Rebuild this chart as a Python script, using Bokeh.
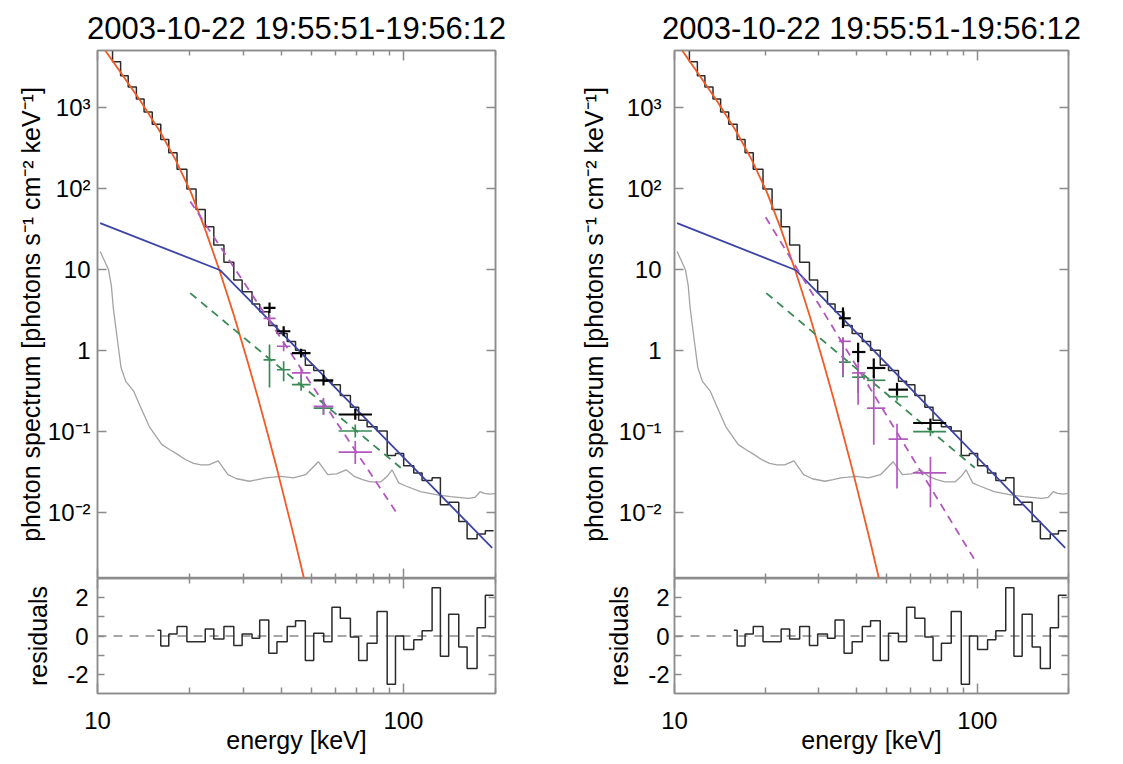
from bokeh.plotting import figure
from bokeh.layouts import row, column
from bokeh.models import FixedTicker, LogAxis, LinearAxis, Range1d, CustomJSTickFormatter
from bokeh.embed import file_html
from bokeh.resources import INLINE

TITLE = "2003-10-22 19:55:51-19:56:12"
Y_LABEL = "photon spectrum [photons s\u207b\u00b9 cm\u207b\u00b2 keV\u207b\u00b9]"
X_LABEL = "energy [keV]"
R_LABEL = "residuals"

# ---- ticks ----
x_major = [10, 100]
x_minor = [20, 30, 40, 50, 60, 70, 80, 90, 200]
y_major = [0.01, 0.1, 1, 10, 100, 1000]
r_major = [-2, 0, 2]
r_minor = [-1, 1]

# ---- observed count spectrum (histogram) ----
hist_edges = [10.5, 11.2, 11.9, 12.6, 13.4, 14.2, 15.1, 16.1, 17.1, 18.2, 19.6, 21.0, 22.5,
              24.0, 25.9, 27.9, 29.7, 32.0, 33.9, 36.3, 38.6, 41.7, 44.4, 47.8, 50.9, 54.9,
              58.4, 62.2, 67.1, 71.4, 76.1, 82.0, 88.5, 94.2, 100.2, 108.1, 115.1, 124.1,
              132.1, 140.6, 151.7, 161.5, 174.1, 185.3, 197.2]
hist_vals = [5250, 3630, 2450, 1780, 1260, 870, 615, 400, 275, 172, 98, 55, 33.5,
             20, 12.3, 7.4, 5.3, 3.76, 3.0, 2.04, 1.62, 1.29, 1.01, 0.66, 0.57,
             0.42, 0.38, 0.279, 0.20, 0.138, 0.115, 0.102, 0.051, 0.054, 0.038, 0.031,
             0.025, 0.027, 0.0126, 0.0135, 0.0078, 0.0048, 0.0055, 0.0060]

# ---- residuals ----
res_edges = [15.7, 16.1, 17.1, 18.2, 19.6, 21.0, 22.5, 24.0, 25.9, 27.9, 29.7, 32.0, 33.9,
             36.3, 38.6, 41.7, 44.4, 47.8, 50.9, 54.9, 58.4, 62.2, 67.1, 71.4, 76.1, 82.0,
             88.5, 94.2, 100.2, 108.1, 115.1, 124.1, 132.1, 140.6, 151.7, 161.5, 174.1,
             185.3, 197.2]
res_vals = [0.3, -0.52, 0.1, 0.5, -0.3, -0.3, 0.37, -0.16, 0.5, -0.5, 0.1, -0.12, 0.83,
            -0.9, -0.3, 0.5, 0.8, -1.28, 0.14, -0.3, 1.5, 0.92, -0.05, -1.28, -0.38, 1.28,
            -2.52, 0.0, -0.7, -0.2, 0.27, 2.52, -1.05, 1.13, -0.58, -1.7, 0.43, 2.12]

# ---- background (grey) ----
bg_E = [10.2, 10.5, 10.86, 11.1, 11.26, 11.6, 11.94, 12.37, 13.13, 13.77, 14.78, 15.5, 16.24,
        17.2, 18.27, 19.3, 20.6, 21.8, 23.1, 24.8, 26.7, 28.5, 31.4, 33.4, 35.4, 37.5, 39.8,
        43.7, 47.9, 52.7, 56.6, 60.5, 65.0, 69.0, 73.5, 78.0, 84.3, 88.5, 91.8, 96.5, 101.8,
        113.7, 129.0, 142.6, 163.0, 171.5, 178.0, 184.0, 192.0, 200.0]
bg_F = [16.6, 13.2, 10.0, 6.3, 3.39, 1.41, 0.617, 0.417, 0.316, 0.209, 0.115, 0.0891, 0.0692,
        0.0603, 0.0525, 0.0457, 0.0407, 0.0389, 0.0389, 0.0437, 0.0295, 0.0263, 0.0245, 0.0257,
        0.0269, 0.0275, 0.0282, 0.0269, 0.0295, 0.0427, 0.0295, 0.0302, 0.0339, 0.0282, 0.0257,
        0.0240, 0.0240, 0.0282, 0.0339, 0.0234, 0.0214, 0.0182, 0.0166, 0.0158, 0.0151, 0.0155,
        0.0182, 0.0174, 0.0170, 0.0174]

# ---- thermal (orange) ----
th_E = [10.4, 10.6, 12.0, 13.8, 16.0, 18.0, 20.2, 22.5, 25.1, 28.0, 31.0, 33.5, 35.8, 38.5,
        42.1, 44.5, 47.2, 49.0]
th_F = [6300, 5010, 2570, 1200, 501, 224, 89, 31, 9.5, 2.63, 0.72, 0.257, 0.102, 0.0363,
        0.0095, 0.0041, 0.00162, 0.00089]

# ---- non-thermal broken power law (blue) ----
nt_E = [10.2, 25.2, 195.0]
nt_F = [37.3, 9.77, 0.0037]

# ---- green dashed ----
gr_E = [20.1, 98.0]
gr_F = [5.1, 0.036]

# ---- purple dashed (left / right) ----
pu_left_E = [20.1, 95.3]
pu_left_F = [69.0, 0.0098]
pu_right_E = [20.0, 97.6]
pu_right_F = [44.0, 0.0027]

# ---- imaging crosses ----
cross_lo = [34.9, 38.6, 43.2, 50.9, 61.4]
cross_hi = [38.2, 42.7, 49.7, 59.0, 78.9]

L_black_E = [36.5, 40.6, 46.3, 54.8, 69.6]
L_black_v = [3.36, 1.73, 0.93, 0.43, 0.163]
L_black_lo = [2.9, 1.5, 0.82, 0.37, 0.14]
L_black_hi = [3.9, 2.0, 1.05, 0.50, 0.19]
L_green_v = [0.77, 0.58, 0.38, 0.195, 0.102]
L_green_lo = [0.35, 0.42, 0.32, 0.163, 0.085]
L_green_hi = [1.19, 0.74, 0.50, 0.236, 0.123]
L_purple_v = [2.5, 1.13, 0.53, 0.205, 0.056]
L_purple_lo = [2.2, 0.98, 0.45, 0.162, 0.040]
L_purple_hi = [2.8, 1.3, 0.62, 0.26, 0.077]

R_black_E = [36.0, 40.4, 45.5, 54.3, 70.0]
R_black_v = [2.5, 0.96, 0.61, 0.33, 0.128]
R_black_lo = [1.9, 0.72, 0.46, 0.28, 0.105]
R_black_hi = [3.4, 1.25, 0.80, 0.40, 0.145]
R_green_v = [0.72, 0.47, 0.43, 0.27, 0.10]
R_green_lo = [0.47, 0.30, 0.36, 0.24, 0.088]
R_green_hi = [1.45, 0.62, 0.50, 0.31, 0.115]
R_purple_v = [1.3, 0.53, 0.195, 0.081, 0.031]
R_purple_lo = [0.50, 0.215, 0.069, 0.020, 0.0117]
R_purple_hi = [1.45, 1.12, 0.47, 0.125, 0.049]

FONT = "Liberation Sans"
FRAME = "#8c8c8c"
C_HIST = "#2b2b2b"
C_BG = "#a3a3a3"
C_TH = "#f45a22"
C_NT = "#3c44a6"
C_GR = "#3a8a56"
C_PU = "#b257be"
TICK_FS = "24px"
LABEL_FS = "25px"


def steps(edges, vals):
    xs, ys = [], []
    for i, v in enumerate(vals):
        xs += [edges[i], edges[i + 1]]
        ys += [v, v]
    return xs, ys


BLANK = CustomJSTickFormatter(code="return '';")
XFMT = CustomJSTickFormatter(code="return String(Math.round(tick));")
RFMT = CustomJSTickFormatter(code="return String(Math.round(tick));")
YFMT = CustomJSTickFormatter(code="""
const m = {"-2":"10\u207b\u00b2","-1":"10\u207b\u00b9","0":"1","1":"10","2":"10\u00b2","3":"10\u00b3"};
return m[String(Math.round(Math.log10(tick)))] || '';
""")


def style_axis(ax, ticker, major_len, minor_len, labels, standoff=0, formatter=None):
    ax.ticker = ticker
    ax.axis_line_color = FRAME
    ax.axis_line_width = 1.5
    ax.major_tick_line_color = FRAME
    ax.minor_tick_line_color = FRAME
    ax.major_tick_line_width = 1.5
    ax.minor_tick_line_width = 1.5
    ax.major_tick_in = major_len
    ax.major_tick_out = 0
    ax.minor_tick_in = minor_len
    ax.minor_tick_out = 0
    ax.axis_label_text_font = FONT
    ax.axis_label_text_font_size = LABEL_FS
    ax.axis_label_text_font_style = "normal"
    ax.axis_label_text_color = "black"
    ax.major_label_text_font = FONT
    ax.major_label_text_color = "black"
    if labels:
        ax.major_label_text_font_size = TICK_FS
        ax.major_label_standoff = standoff
        if formatter is not None:
            ax.formatter = formatter
    else:
        ax.major_label_text_font_size = "0px"
        ax.major_label_standoff = 0
        ax.formatter = BLANK


def xticker():
    return FixedTicker(ticks=x_major, minor_ticks=x_minor)


def make_column(width, bl, br, ytick_standoff, ylab_standoff, rtick_standoff, rlab_standoff,
                black_E, black_v, black_lo, black_hi, green_v, green_lo, green_hi,
                purple_v, purple_lo, purple_hi, pu_E, pu_F):
    p = figure(width=width, height=578, x_axis_type="log", y_axis_type="log",
               x_range=Range1d(10, 200), y_range=Range1d(0.00155, 5000),
               output_backend="svg", toolbar_location=None,
               min_border_left=bl, min_border_right=br, min_border_top=50, min_border_bottom=0)
    p.title.text = TITLE
    p.title.align = "center"
    p.title.text_font = FONT
    p.title.text_font_size = "31px"
    p.title.text_font_style = "normal"
    p.title.text_color = "black"
    p.title.standoff = 10
    p.grid.visible = False
    p.outline_line_color = FRAME
    p.outline_line_width = 1.5
    p.background_fill_color = "white"
    p.border_fill_color = "white"

    style_axis(p.xaxis[0], xticker(), 10, 5, False)
    style_axis(p.yaxis[0], FixedTicker(ticks=y_major, minor_ticks=[]), 9, 0, True,
               ytick_standoff, YFMT)
    p.yaxis[0].axis_label = Y_LABEL
    p.yaxis[0].axis_label_standoff = ylab_standoff
    top = LogAxis()
    style_axis(top, xticker(), 10, 5, False)
    p.add_layout(top, "above")
    right = LogAxis()
    style_axis(right, FixedTicker(ticks=y_major, minor_ticks=[]), 9, 0, False)
    p.add_layout(right, "right")

    p.line(bg_E, bg_F, color=C_BG, line_width=1.3)
    hx, hy = steps(hist_edges, hist_vals)
    p.line(hx, hy, color=C_HIST, line_width=1.5)
    p.line(th_E, th_F, color=C_TH, line_width=1.8)
    p.line(nt_E, nt_F, color=C_NT, line_width=1.8)
    p.line(gr_E, gr_F, color=C_GR, line_width=1.8, line_dash="8 6")
    p.line(pu_E, pu_F, color=C_PU, line_width=1.8, line_dash="8 6")

    for col, v, lo, hi, w in [(C_GR, green_v, green_lo, green_hi, 1.7),
                              (C_PU, purple_v, purple_lo, purple_hi, 1.7),
                              ("black", black_v, black_lo, black_hi, 2.2)]:
        p.segment(x0=cross_lo, y0=v, x1=cross_hi, y1=v, color=col, line_width=w)
        p.segment(x0=black_E, y0=lo, x1=black_E, y1=hi, color=col, line_width=w)

    r = figure(width=width, height=186, x_axis_type="log",
               x_range=Range1d(10, 200), y_range=Range1d(-3, 3),
               output_backend="svg", toolbar_location=None,
               min_border_left=bl, min_border_right=br, min_border_top=0, min_border_bottom=71)
    r.grid.visible = False
    r.outline_line_color = FRAME
    r.outline_line_width = 1.5
    r.background_fill_color = "white"
    r.border_fill_color = "white"
    style_axis(r.xaxis[0], xticker(), 10, 6, True, 18, XFMT)
    r.xaxis[0].axis_label = X_LABEL
    r.xaxis[0].axis_label_standoff = -6
    style_axis(r.yaxis[0], FixedTicker(ticks=r_major, minor_ticks=r_minor), 7, 7, True,
               rtick_standoff, RFMT)
    r.yaxis[0].axis_label = R_LABEL
    r.yaxis[0].axis_label_standoff = rlab_standoff
    rtop = LogAxis()
    style_axis(rtop, xticker(), 10, 5, False)
    r.add_layout(rtop, "above")
    rright = LinearAxis()
    style_axis(rright, FixedTicker(ticks=r_major, minor_ticks=r_minor), 7, 7, False)
    r.add_layout(rright, "right")

    r.line([10, 200], [0, 0], color="#8a8a8a", line_width=1.5, line_dash="9 7")
    rx, ry = steps(res_edges, res_vals)
    r.line(rx, ry, color=C_HIST, line_width=1.5)

    return column(p, r, spacing=0)


left = make_column(560, 97, 65, 7, 0, 9, 12,
                   L_black_E, L_black_v, L_black_lo, L_black_hi,
                   L_green_v, L_green_lo, L_green_hi,
                   L_purple_v, L_purple_lo, L_purple_hi, pu_left_E, pu_left_F)
right = make_column(563, 114, 55, 13, 8, 5, 12,
                    R_black_E, R_black_v, R_black_lo, R_black_hi,
                    R_green_v, R_green_lo, R_green_hi,
                    R_purple_v, R_purple_lo, R_purple_hi, pu_right_E, pu_right_F)

layout = row(left, right, spacing=0)

with open("out.html", "w") as f:
    f.write(file_html(layout, INLINE))
